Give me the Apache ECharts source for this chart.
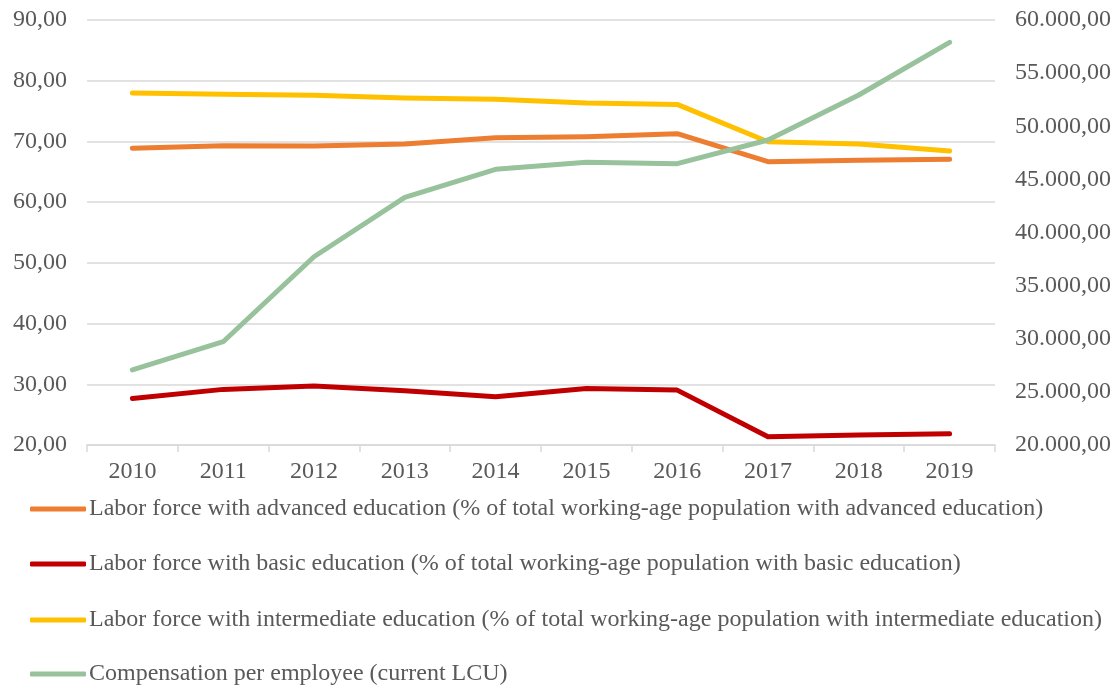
<!DOCTYPE html>
<html>
<head>
<meta charset="utf-8">
<script src="https://cdn.jsdelivr.net/npm/echarts@6/dist/echarts.min.js"></script>
<style>html,body{margin:0;padding:0;background:#fff}#c{width:1118px;height:689px}</style>
</head>
<body>
<div id="c"></div>
<script>
var years = ['2010','2011','2012','2013','2014','2015','2016','2017','2018','2019'];
var advanced = [68.86, 69.3, 69.25, 69.57, 70.6, 70.78, 71.27, 66.66, 66.89, 67.05];
var basic = [27.67, 29.16, 29.7, 28.93, 27.95, 29.32, 29.04, 21.35, 21.63, 21.85];
var intermediate = [77.97, 77.76, 77.6, 77.15, 76.93, 76.33, 76.1, 69.95, 69.57, 68.42];
var compensation = [27060, 29720, 37720, 43310, 45950, 46610, 46480, 48710, 52940, 57900];
var names = [
  'Labor force with advanced education (% of total working-age population with advanced education)',
  'Labor force with basic education (% of total working-age population with basic education)',
  'Labor force with intermediate education (% of total working-age population with intermediate education)',
  'Compensation per employee (current LCU)'
];
var colors = ['#ED7D31', '#C00000', '#FFC000', '#98C29B'];

function fmtLeft(v){ return v.toFixed(2).replace('.', ','); }
function fmtRight(v){
  var s = Math.round(v).toString().replace(/\B(?=(\d{3})+(?!\d))/g, '.');
  return s + ',00';
}
var font = 'Liberation Serif, Times New Roman, serif';
var chart = echarts.init(document.getElementById('c'));
function mk(i, data, yIdx){
  return {
    name: names[i], type: 'line', data: data, yAxisIndex: yIdx,
    symbol: 'none', smooth: false,
    lineStyle: {color: colors[i], width: 5, cap: 'round', join: 'round'},
    itemStyle: {color: colors[i]}
  };
}
var legendTops = [497, 552, 608, 662];
var legends = names.map(function(n, i){
  return {
    orient: 'horizontal', left: 30, top: legendTops[i], padding: 0,
    icon: 'roundRect', itemWidth: 56, itemHeight: 5,
    textStyle: {fontFamily: font, fontSize: 24, color: '#595959', lineHeight: 24, padding: [0,0,0,-2]},
    data: [n]
  };
});
chart.setOption({
  animation: false,
  textStyle: {fontFamily: font},
  grid: {left: 87, right: 123, top: 20, bottom: 244, containLabel: false},
  legend: legends,
  xAxis: {
    type: 'category', data: years, boundaryGap: true,
    axisLine: {lineStyle: {color: '#D9D9D9', width: 1.5}},
    axisTick: {show: true, length: 7, lineStyle: {color: '#D9D9D9', width: 1.5}},
    axisLabel: {color: '#595959', fontSize: 24, fontFamily: font, margin: 15}
  },
  yAxis: [
    {type: 'value', min: 20, max: 90, interval: 10, position: 'left',
     axisLine: {show: false}, axisTick: {show: false},
     splitLine: {lineStyle: {color: '#D9D9D9', width: 1.5}},
     axisLabel: {color: '#595959', fontSize: 24, fontFamily: font, margin: 20, formatter: fmtLeft}},
    {type: 'value', min: 20000, max: 60000, interval: 5000, position: 'right',
     axisLine: {show: false}, axisTick: {show: false}, splitLine: {show: false},
     axisLabel: {color: '#595959', fontSize: 24, fontFamily: font, margin: 20, formatter: fmtRight}}
  ],
  series: [mk(0, advanced, 0), mk(1, basic, 0), mk(2, intermediate, 0), mk(3, compensation, 1)]
});
</script>
</body>
</html>
